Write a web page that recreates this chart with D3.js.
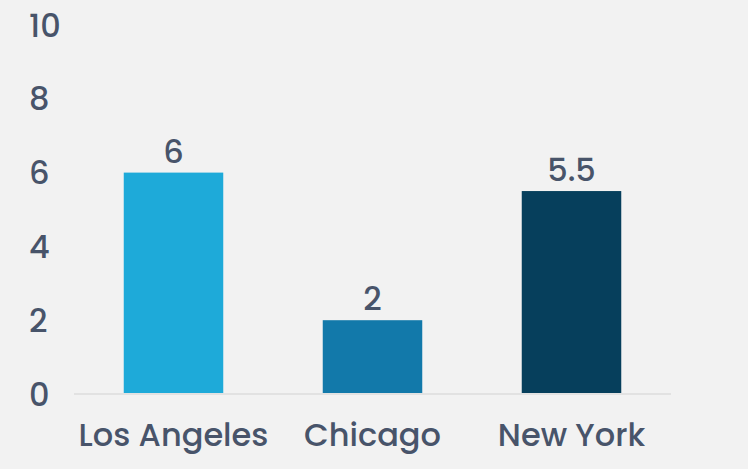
<!DOCTYPE html>
<html>
<head>
<meta charset="utf-8">
<script src="https://cdn.jsdelivr.net/npm/d3@7"></script>
<style>
  html, body { margin: 0; padding: 0; background: #f2f2f2; }
  svg { display: block; }
</style>
</head>
<body>
<div id="chart"></div>
<script>
// Values
var cities = ["Los Angeles", "Chicago", "New York"];
var counts = [6, 2, 5.5];
var countLabels = ["6", "2", "5.5"];
var barColors = ["#1eaad9", "#1279aa", "#063f5c"];
var yTicks = [0, 2, 4, 6, 8, 10];

var width = 748;
var height = 469;
var font = "Poppins, 'DejaVu Sans', sans-serif";
var textColor = "#48546a";
var fontSize = "32px";

var svg = d3.select("#chart").append("svg")
    .attr("width", width)
    .attr("height", height);

svg.append("rect")
    .attr("width", width)
    .attr("height", height)
    .attr("fill", "#f2f2f2");

var x = d3.scaleBand()
    .domain(cities)
    .range([74, 671])
    .paddingInner(0.5)
    .paddingOuter(0.25);

var y = d3.scaleLinear()
    .domain([0, 10])
    .range([394, 25]);

// y tick labels (no axis line, no grid)
svg.append("g")
    .selectAll("text")
    .data(yTicks)
    .join("text")
    .attr("x", 29)
    .attr("y", function (d) { return y(d); })
    .attr("dy", "0.36em")
    .attr("fill", textColor)
    .attr("font-family", font)
    .attr("font-weight", 500)
    .attr("font-size", fontSize)
    .text(function (d) { return d; });

// bars
svg.append("g")
    .selectAll("rect")
    .data(counts)
    .join("rect")
    .attr("x", function (d, i) { return x(cities[i]); })
    .attr("y", function (d) { return y(d); })
    .attr("width", x.bandwidth())
    .attr("height", function (d) { return y(0) - y(d); })
    .attr("fill", function (d, i) { return barColors[i]; });

// baseline
svg.append("line")
    .attr("x1", x.range()[0])
    .attr("x2", x.range()[1])
    .attr("y1", y(0))
    .attr("y2", y(0))
    .attr("stroke", "#e2e2e2")
    .attr("stroke-width", 2);

// value labels on top of bars
svg.append("g")
    .selectAll("text")
    .data(counts)
    .join("text")
    .attr("x", function (d, i) { return x(cities[i]) + x.bandwidth() / 2; })
    .attr("y", function (d) { return y(d) - 10; })
    .attr("text-anchor", "middle")
    .attr("fill", textColor)
    .attr("font-family", font)
    .attr("font-weight", 500)
    .attr("font-size", fontSize)
    .text(function (d, i) { return countLabels[i]; });

// category labels
svg.append("g")
    .selectAll("text")
    .data(cities)
    .join("text")
    .attr("x", function (d) { return x(d) + x.bandwidth() / 2; })
    .attr("y", 446)
    .attr("text-anchor", "middle")
    .attr("fill", textColor)
    .attr("font-family", font)
    .attr("font-weight", 500)
    .attr("font-size", fontSize)
    .text(function (d) { return d; });
</script>
</body>
</html>
